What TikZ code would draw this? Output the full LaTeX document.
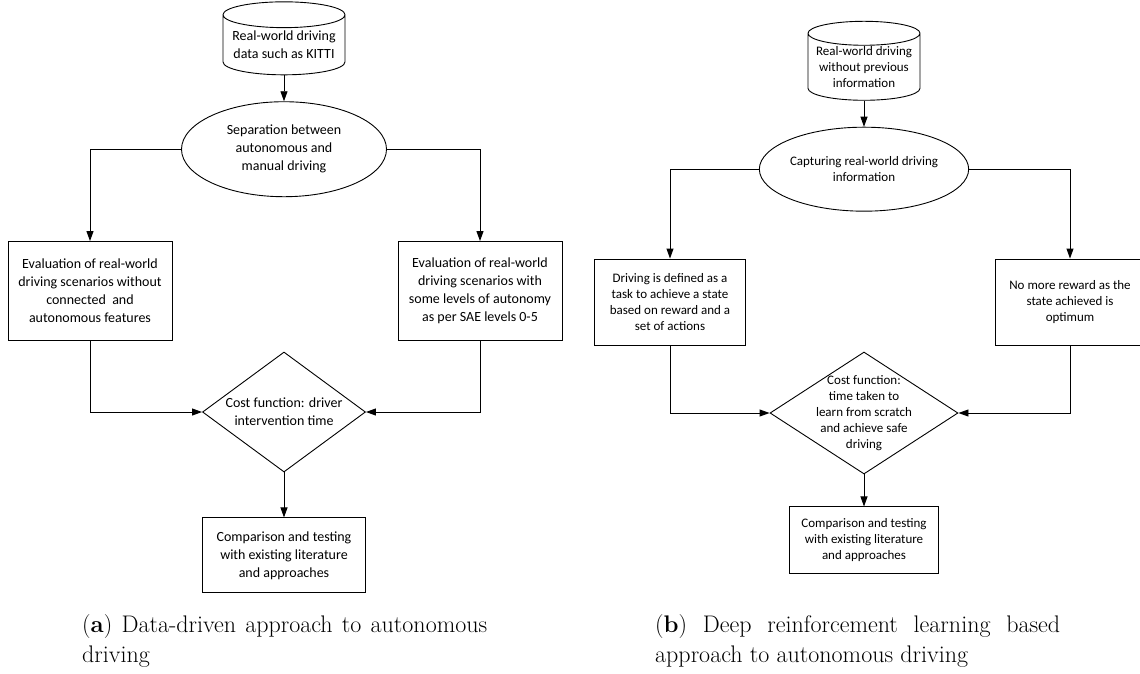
\documentclass[tikz,border=0pt]{standalone}
\usepackage{fontspec}
\newfontfamily\carlito{Carlito}
\usetikzlibrary{arrows.meta,positioning,shapes.geometric}
\tikzset{
  base/.style={draw=black, line width=0.9pt, align=center, inner sep=0pt},
  block/.style={base, rectangle},
  database/.style={base, cylinder, shape border rotate=90, aspect=0.25},
  process/.style={base, ellipse},
  decision/.style={base, diamond},
  arrow/.style={-{Triangle[length=10pt,width=7pt]}, line width=0.9pt},
  leftfont/.style={font=\carlito\fontsize{14}{18}\selectfont, align=center},
  rightfont/.style={font=\carlito\fontsize{13}{16}\selectfont, align=center},
  caption/.style={anchor=north west, inner sep=0pt, text width=405pt, align=justify,
                  font=\fontsize{24}{30}\selectfont},
}
\begin{document}
\begin{tikzpicture}[x=1pt, y=-1pt]
\clip (0,0) rectangle (1140,673);
% (a) data-driven approach
\node[database, leftfont, minimum width=122pt, minimum height=73pt] (dataL) at (284,45) {Real-world driving\\data such as KITTI};
\node[process, leftfont, minimum width=205pt, minimum height=95pt, below=26pt of dataL] (sepL) {Separation between\\autonomous and\\manual driving};
\node[block, leftfont, minimum width=164pt, minimum height=99pt] (evalA) at (90,291) {Evaluation of real-world\\driving scenarios without\\connected \ and\\autonomous features};
\node[block, leftfont, minimum width=164pt, minimum height=99pt] (evalB) at (480,291) {Evaluation of real-world\\driving scenarios with\\some levels of autonomy\\as per SAE levels 0-5};
\node[decision, minimum width=163pt, minimum height=120pt] (costL) at (284,412) {};
\node[leftfont] (costLtxt) at (costL) {Cost function: driver\\intervention time};
\node[block, leftfont, minimum width=163pt, minimum height=75pt, below=45pt of costL] (cmpL) {Comparison and testing\\with existing literature\\and approaches};
\draw[arrow] (dataL.south) -- (sepL.north);
\draw[arrow] (sepL.west) -| (evalA.north);
\draw[arrow] (sepL.east) -| (evalB.north);
\draw[arrow] (evalA.south) |- (costL.west);
\draw[arrow] (evalB.south) |- (costL.east);
\draw[arrow] (costL.south) -- (cmpL.north);
% (b) deep reinforcement learning approach
\node[database, rightfont, minimum width=112pt, minimum height=79pt] (dataR) at (864,67) {Real-world driving\\without previous\\information};
\node[process, rightfont, minimum width=188pt, minimum height=84pt, below=26pt of dataR] (capR) {Capturing real-world driving\\information};
\node[block, rightfont, minimum width=151pt, minimum height=86pt] (taskR) at (670,302) {Driving is defined as a\\task to achieve a state\\based on reward and a\\set of actions};
\node[block, rightfont, minimum width=150pt, minimum height=86pt] (optR) at (1070,302) {No more reward as the\\state achieved is\\optimum};
\node[decision, minimum width=188pt, minimum height=122pt] (costR) at (864,413) {};
\node[rightfont] (costRtxt) at (costR) {Cost function:\\time taken to\\learn from scratch\\and achieve safe\\driving};
\node[block, rightfont, minimum width=149pt, minimum height=67pt, below=32pt of costR] (cmpR) {Comparison and testing\\with existing literature\\and approaches};
\draw[arrow] (dataR.south) -- (capR.north);
\draw[arrow] (capR.west) -| (taskR.north);
\draw[arrow] (capR.east) -| (optR.north);
\draw[arrow] (taskR.south) |- (costR.west);
\draw[arrow] (optR.south) |- (costR.east);
\draw[arrow] (costR.south) -- (cmpR.north);
% captions
\node[caption] (capA) at (82,614) {(\textbf{a}) Data-driven approach to \mbox{autonomous} driving};
\node[caption] (capB) at (655,614) {(\textbf{b}) Deep reinforcement learning based \mbox{approach} to autonomous driving};
\end{tikzpicture}
\end{document}
